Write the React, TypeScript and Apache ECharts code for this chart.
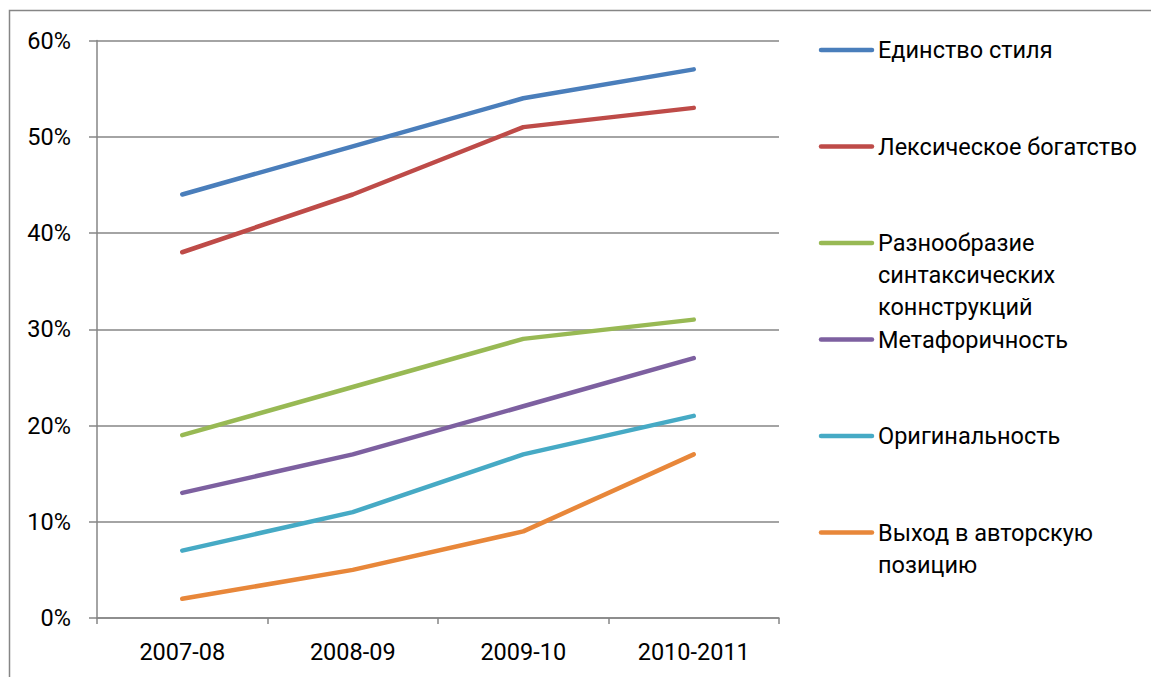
import React, { useEffect, useRef } from "react";
import * as echarts from "echarts";

const categories = ["2007-08", "2008-09", "2009-10", "2010-2011"];

const seriesNames = [
  "Единство стиля",
  "Лексическое богатство",
  "Разнообразие синтаксических коннструкций",
  "Метафоричность",
  "Оригинальность",
  "Выход в авторскую позицию",
];

// Wrapped legend captions
const legendLabels = [
  "Единство стиля",
  "Лексическое богатство",
  "Разнообразие\nсинтаксических\nконнструкций",
  "Метафоричность",
  "Оригинальность",
  "Выход в авторскую\nпозицию",
];

const unityOfStyle = [44, 49, 54, 57];
const lexicalRichness = [38, 44, 51, 53];
const syntaxVariety = [19, 24, 29, 31];
const metaphoricity = [13, 17, 22, 27];
const originality = [7, 11, 17, 21];
const authorPosition = [2, 5, 9, 17];

const seriesValues = [
  unityOfStyle,
  lexicalRichness,
  syntaxVariety,
  metaphoricity,
  originality,
  authorPosition,
];

const colors = ["#4A7EBB", "#BE4B48", "#98B954", "#7D60A0", "#46AAC5", "#E8873A"];

const FONT = "Roboto, 'Open Sans', sans-serif";
const FONT_SIZE = 23.5;

export default function App() {
  const ref = useRef<HTMLDivElement>(null);

  useEffect(() => {
    if (!ref.current) return;
    const chart = echarts.init(ref.current, undefined, { renderer: "svg" });

    const legendTop = 50;
    const legendStep = 96.5;
    const legendGraphics: any[] = [];
    legendLabels.forEach((label, i) => {
      const y = legendTop + i * legendStep;
      legendGraphics.push({
        type: "line",
        shape: { x1: 821, y1: y, x2: 872, y2: y },
        style: { stroke: colors[i], lineWidth: 4.5, lineCap: "round" },
        silent: true,
      });
      legendGraphics.push({
        type: "text",
        x: 878,
        y: y - 16,
        style: {
          text: label,
          font: `${FONT_SIZE}px ${FONT}`,
          fill: "#000",
          lineHeight: 32,
          verticalAlign: "top",
          textAlign: "left",
        },
        silent: true,
      });
    });

    chart.setOption({
      animation: false,
      backgroundColor: "#fff",
      grid: { left: 97, right: 372, top: 40.5, bottom: 59, containLabel: false },
      xAxis: {
        type: "category",
        data: categories,
        boundaryGap: true,
        axisLine: { lineStyle: { color: "#868686", width: 1.5 } },
        axisTick: { show: true, length: 6, alignWithLabel: false, lineStyle: { color: "#868686", width: 1.5 } },
        axisLabel: { color: "#000", fontSize: FONT_SIZE, fontFamily: FONT, margin: 22 },
        splitLine: { show: false },
      },
      yAxis: {
        type: "value",
        min: 0,
        max: 60,
        interval: 10,
        axisLine: { show: true, lineStyle: { color: "#868686", width: 1.5 } },
        axisTick: { show: true, length: 8, lineStyle: { color: "#868686", width: 1.5 } },
        axisLabel: {
          color: "#000",
          fontSize: FONT_SIZE,
          fontFamily: FONT,
          margin: 26,
          formatter: "{value}%",
        },
        splitLine: { show: true, lineStyle: { color: "#868686", width: 1.5 } },
      },
      series: seriesNames.map((name, i) => ({
        name,
        type: "line",
        data: seriesValues[i],
        symbol: "none",
        lineStyle: { color: colors[i], width: 4.5, cap: "round", join: "round" },
        itemStyle: { color: colors[i] },
        z: 10 - i,
      })),
      graphic: [
        {
          type: "rect",
          shape: { x: 9.5, y: 10.5, width: 1160, height: 700 },
          style: { fill: "none", stroke: "#868686", lineWidth: 1.5 },
          silent: true,
          z: -1,
        },
        ...legendGraphics,
      ],
    });

    return () => chart.dispose();
  }, []);

  return (
    <div
      ref={ref}
      style={{ position: "fixed", left: 0, top: 0, width: 1151, height: 677 }}
    />
  );
}
